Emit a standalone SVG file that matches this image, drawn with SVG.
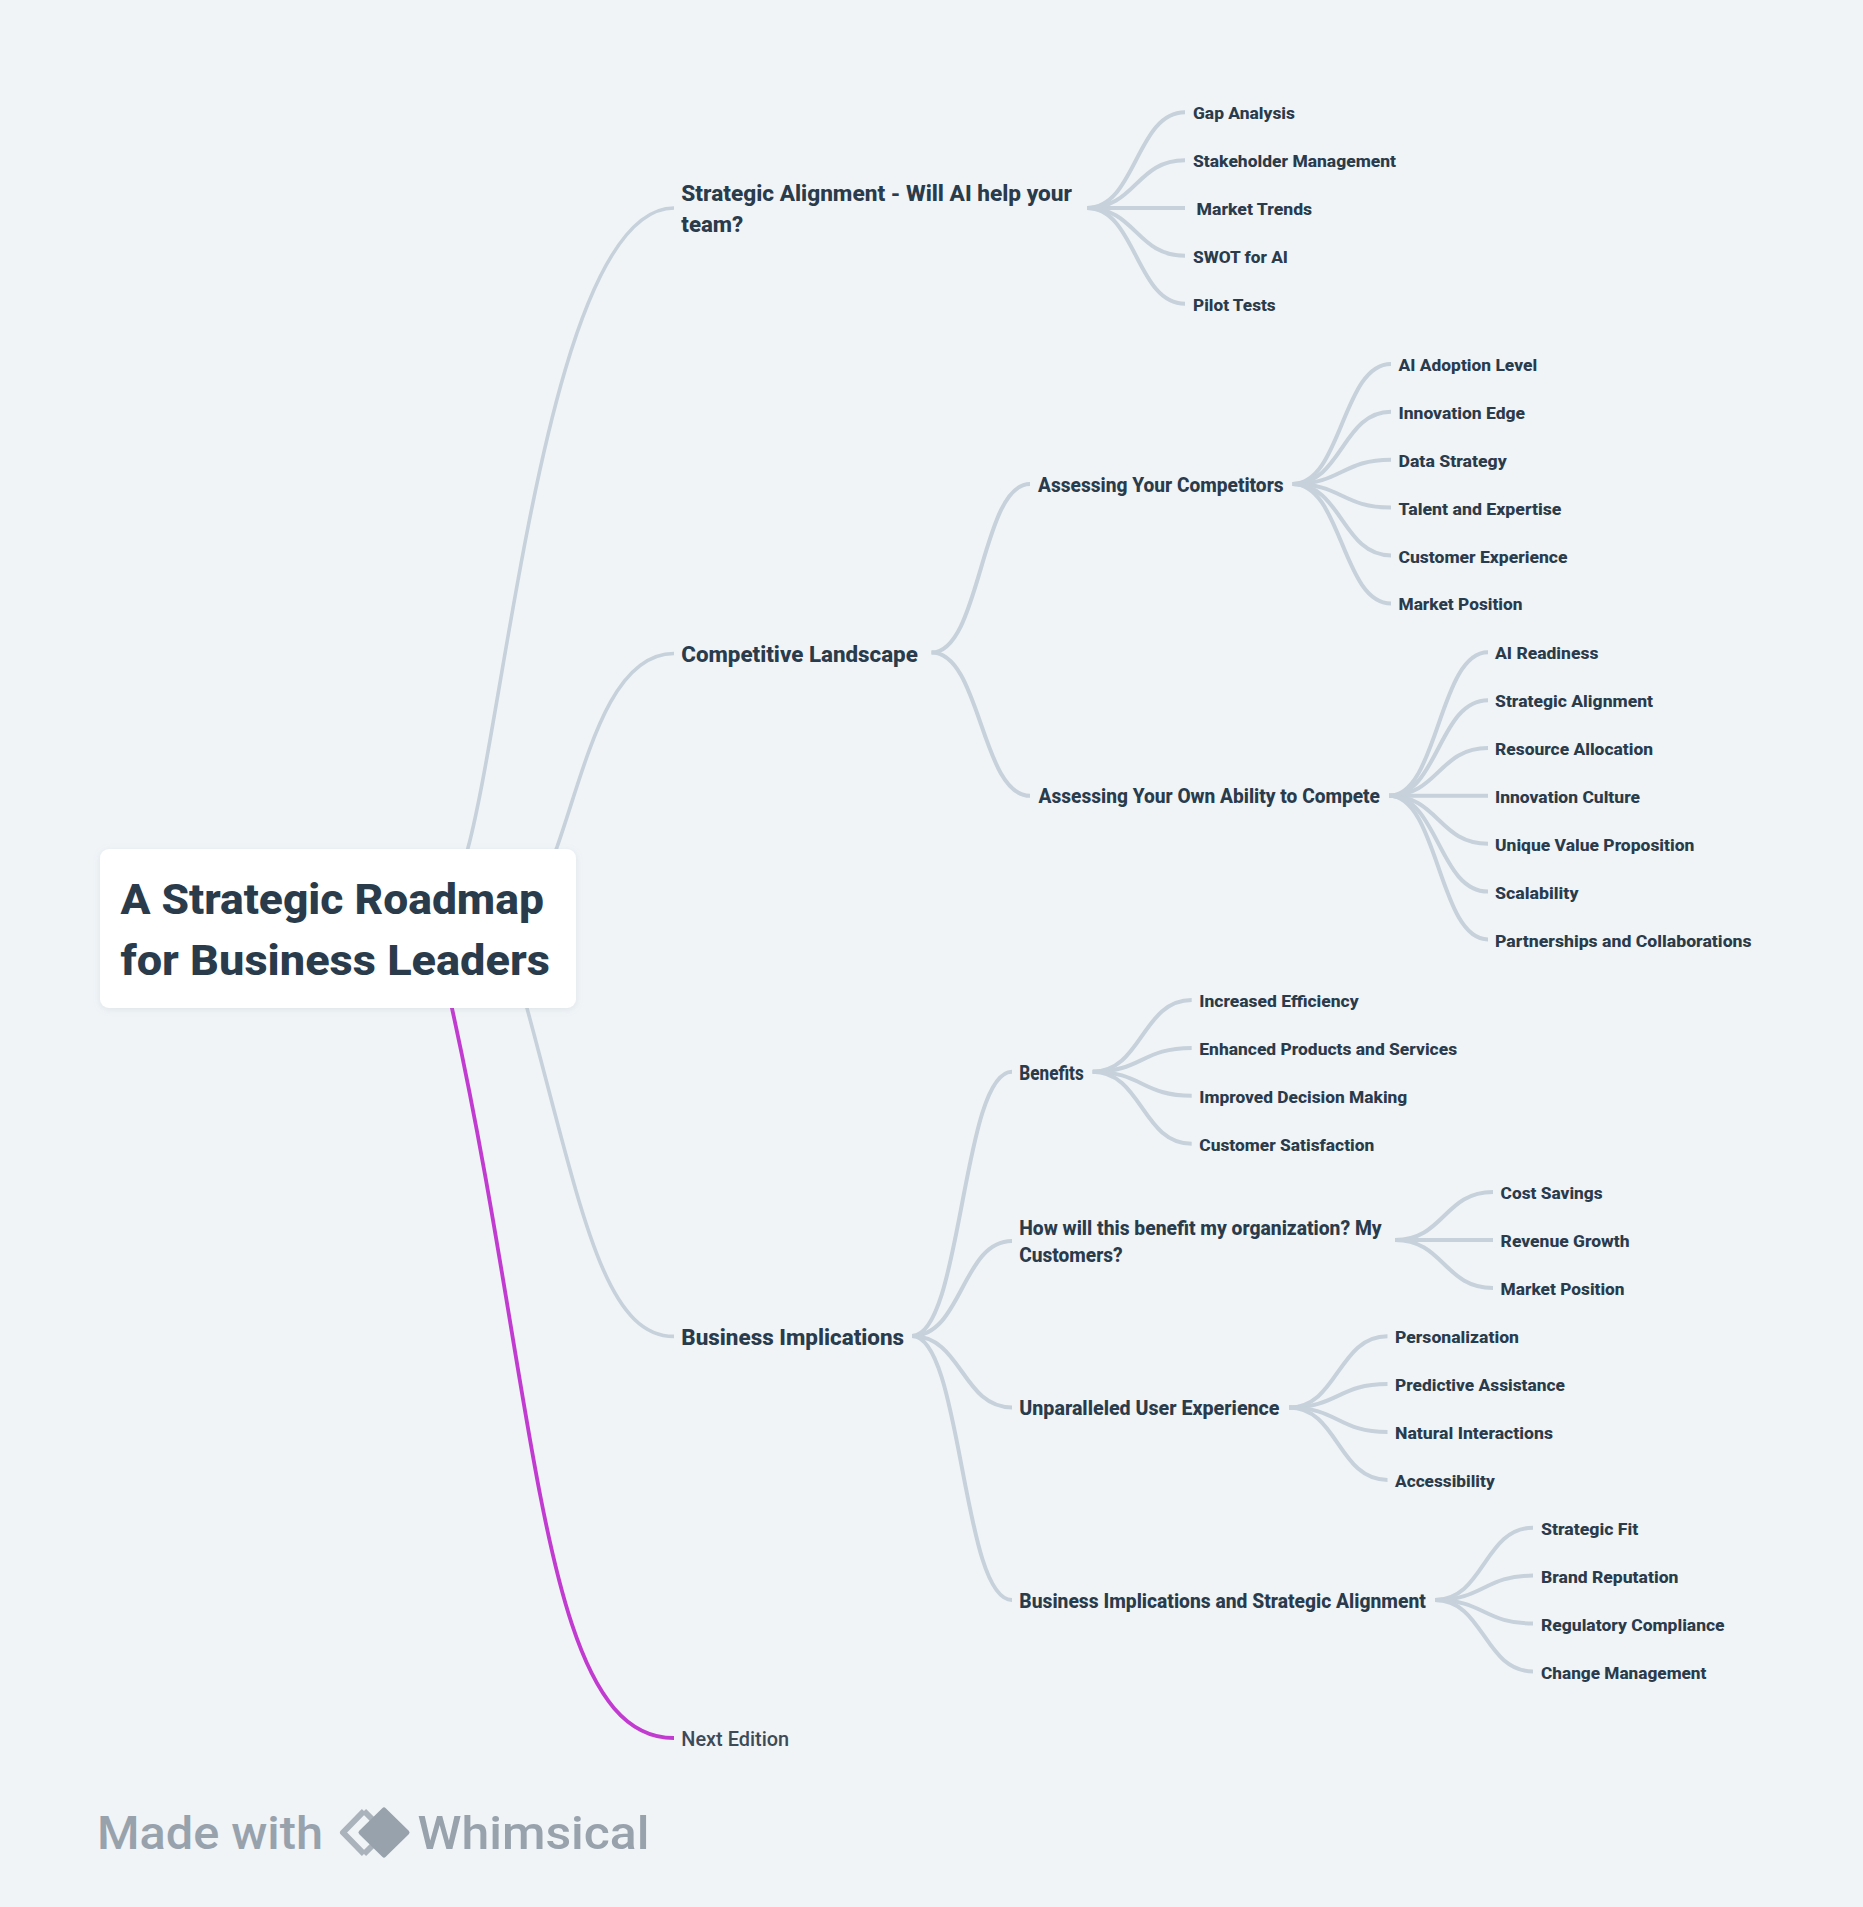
<svg xmlns="http://www.w3.org/2000/svg" width="1863" height="1907" viewBox="0 0 1863 1907">
<style>
text{font-family:"Roboto","Liberation Sans",sans-serif;fill:#2a3b4b;font-weight:700}
.r{font-size:43px;font-weight:800}
.a{font-size:21.5px;font-weight:800}
.b{font-size:19.5px;font-weight:800}
.c{font-size:16.5px;font-weight:800}
.n{font-size:20px;font-weight:500;fill:#3d4a58}
.w{font-size:47px;font-weight:500;fill:#98a2ad}
#connectors path{fill:none;stroke:#c6d1db;stroke-width:4}
#connectors path.t{stroke-width:3.6}
#connectors path.p{stroke:#c13bd0;stroke-width:3.8}
</style>
<defs><filter id="sh" x="-5%" y="-10%" width="110%" height="125%"><feDropShadow dx="0" dy="1.5" stdDeviation="3" flood-color="#8a99a8" flood-opacity="0.18"/></filter></defs>
<rect width="1863" height="1907" fill="#f0f4f7"/>
<g id="connectors">
<path class="t" d="M455 900L468 848C508 698 550 208 674 208"/>
<path class="t" d="M540 885L556.7 848C585 768 608 653.5 674 653.5"/>
<path class="t" d="M515 985L526.7 1007C581 1207 603 1336.4 674 1336.4"/>
<path class="p" d="M445 985L451.7 1007C540 1407 540 1738 674 1738"/>
<path d="M1087 208C1136 208 1136 112.3 1185 112.3"/><path d="M1087 208C1136 208 1136 160.2 1185 160.2"/><path d="M1087 208H1185"/><path d="M1087 208C1136 208 1136 255.8 1185 255.8"/><path d="M1087 208C1136 208 1136 303.7 1185 303.7"/>
<path d="M931.5 652.5C981 652.5 981 484 1030 484"/><path d="M931.5 652.5C981 652.5 981 795.8 1030 795.8"/>
<path d="M1292.7 484C1342 484 1342 364 1391 364"/><path d="M1292.7 484C1342 484 1342 411.8 1391 411.8"/><path d="M1292.7 484C1342 484 1342 459.7 1391 459.7"/><path d="M1292.7 484C1342 484 1342 507.5 1391 507.5"/><path d="M1292.7 484C1342 484 1342 555.4 1391 555.4"/><path d="M1292.7 484C1342 484 1342 603.4 1391 603.4"/>
<path d="M1389 795.8C1438.500 795.8 1438.500 652.3 1488 652.3"/><path d="M1389 795.8C1438.500 795.8 1438.500 700.2 1488 700.2"/><path d="M1389 795.8C1438.500 795.8 1438.500 748 1488 748"/><path d="M1389 795.8H1488"/><path d="M1389 795.8C1438.500 795.8 1438.500 843.7 1488 843.7"/><path d="M1389 795.8C1438.500 795.8 1438.500 891.6 1488 891.6"/><path d="M1389 795.8C1438.500 795.8 1438.500 939.5 1488 939.5"/>
<path d="M912 1336C962 1336 962 1071.7 1012 1071.7"/><path d="M912 1336C962 1336 962 1241 1012 1241"/><path d="M912 1336C962 1336 962 1407.500 1012 1407.500"/><path d="M912 1336C962 1336 962 1600 1012 1600"/>
<path d="M1092.700 1071.700C1142 1071.700 1142 1000 1191.700 1000"/><path d="M1092.700 1071.700C1142 1071.700 1142 1047.900 1191.700 1047.900"/><path d="M1092.700 1071.700C1142 1071.700 1142 1095.800 1191.700 1095.800"/><path d="M1092.700 1071.700C1142 1071.700 1142 1143.700 1191.700 1143.700"/>
<path d="M1395 1240C1444 1240 1444 1192 1493 1192"/><path d="M1395 1240H1493"/><path d="M1395 1240C1444 1240 1444 1287.900 1493 1287.900"/>
<path d="M1289 1407.500C1338 1407.500 1338 1336.200 1387.500 1336.200"/><path d="M1289 1407.500C1338 1407.500 1338 1384.100 1387.500 1384.100"/><path d="M1289 1407.500C1338 1407.500 1338 1432 1387.500 1432"/><path d="M1289 1407.500C1338 1407.500 1338 1479.900 1387.500 1479.900"/>
<path d="M1435 1600C1484 1600 1484 1527.700 1533 1527.700"/><path d="M1435 1600C1484 1600 1484 1575.600 1533 1575.600"/><path d="M1435 1600C1484 1600 1484 1623.500 1533 1623.500"/><path d="M1435 1600C1484 1600 1484 1671.400 1533 1671.400"/>
</g>
<g id="root"><rect x="100" y="849" width="476" height="159" rx="9" fill="#fff" filter="url(#sh)"/>
<text class="r" x="120.400" y="914" textLength="423.500" lengthAdjust="spacingAndGlyphs">A Strategic Roadmap</text>
<text class="r" x="120.400" y="974.500" textLength="429.500" lengthAdjust="spacingAndGlyphs">for Business Leaders</text></g>
<g id="n-strategic-alignment"><text class="a" x="681.300" y="201.300" textLength="390.700" lengthAdjust="spacingAndGlyphs">Strategic Alignment - Will AI help your</text><text class="a" x="681.300" y="232" textLength="62" lengthAdjust="spacingAndGlyphs">team?</text></g>
<g id="n-gap"><text class="c" x="1193" y="119" textLength="102" lengthAdjust="spacingAndGlyphs">Gap Analysis</text></g>
<g id="n-stakeholder"><text class="c" x="1193" y="166.900" textLength="203" lengthAdjust="spacingAndGlyphs">Stakeholder Management</text></g>
<g id="n-market-trends"><text class="c" x="1196.600" y="214.800" textLength="115.500" lengthAdjust="spacingAndGlyphs">Market Trends</text></g>
<g id="n-swot"><text class="c" x="1193" y="262.600" textLength="95" lengthAdjust="spacingAndGlyphs">SWOT for AI</text></g>
<g id="n-pilot"><text class="c" x="1193" y="310.500" textLength="82.700" lengthAdjust="spacingAndGlyphs">Pilot Tests</text></g>
<g id="n-competitive"><text class="a" x="681.300" y="661.500" textLength="236.500" lengthAdjust="spacingAndGlyphs">Competitive Landscape</text></g>
<g id="n-assess-comp"><text class="b" x="1038" y="492" textLength="245.600" lengthAdjust="spacingAndGlyphs">Assessing Your Competitors</text></g>
<g id="n-ai-adoption"><text class="c" x="1398.500" y="371.300" textLength="138.600" lengthAdjust="spacingAndGlyphs">AI Adoption Level</text></g>
<g id="n-innovation-edge"><text class="c" x="1398.500" y="419.100" textLength="126.500" lengthAdjust="spacingAndGlyphs">Innovation Edge</text></g>
<g id="n-data-strategy"><text class="c" x="1398.500" y="467" textLength="108.200" lengthAdjust="spacingAndGlyphs">Data Strategy</text></g>
<g id="n-talent"><text class="c" x="1398.500" y="514.800" textLength="163" lengthAdjust="spacingAndGlyphs">Talent and Expertise</text></g>
<g id="n-customer-exp"><text class="c" x="1398.500" y="562.700" textLength="169" lengthAdjust="spacingAndGlyphs">Customer Experience</text></g>
<g id="n-market-pos-1"><text class="c" x="1398.500" y="610.300" textLength="124" lengthAdjust="spacingAndGlyphs">Market Position</text></g>
<g id="n-assess-own"><text class="b" x="1038.500" y="803.400" textLength="341.500" lengthAdjust="spacingAndGlyphs">Assessing Your Own Ability to Compete</text></g>
<g id="n-ai-readiness"><text class="c" x="1495" y="659" textLength="103.400" lengthAdjust="spacingAndGlyphs">AI Readiness</text></g>
<g id="n-strat-align"><text class="c" x="1495" y="707" textLength="158" lengthAdjust="spacingAndGlyphs">Strategic Alignment</text></g>
<g id="n-resource"><text class="c" x="1495" y="755.300" textLength="158" lengthAdjust="spacingAndGlyphs">Resource Allocation</text></g>
<g id="n-innovation-culture"><text class="c" x="1495" y="803.100" textLength="145" lengthAdjust="spacingAndGlyphs">Innovation Culture</text></g>
<g id="n-uvp"><text class="c" x="1495" y="851" textLength="199.400" lengthAdjust="spacingAndGlyphs">Unique Value Proposition</text></g>
<g id="n-scalability"><text class="c" x="1495" y="898.900" textLength="83.500" lengthAdjust="spacingAndGlyphs">Scalability</text></g>
<g id="n-partnerships"><text class="c" x="1495" y="946.800" textLength="256.600" lengthAdjust="spacingAndGlyphs">Partnerships and Collaborations</text></g>
<g id="n-business"><text class="a" x="681.300" y="1344.500" textLength="222.800" lengthAdjust="spacingAndGlyphs">Business Implications</text></g>
<g id="n-benefits"><text class="b" x="1019.300" y="1080" textLength="64.400" lengthAdjust="spacingAndGlyphs">Benefits</text></g>
<g id="n-efficiency"><text class="c" x="1199.300" y="1007" textLength="159.300" lengthAdjust="spacingAndGlyphs">Increased Efficiency</text></g>
<g id="n-products"><text class="c" x="1199.300" y="1055.300" textLength="257.800" lengthAdjust="spacingAndGlyphs">Enhanced Products and Services</text></g>
<g id="n-decision"><text class="c" x="1199.300" y="1103.200" textLength="208" lengthAdjust="spacingAndGlyphs">Improved Decision Making</text></g>
<g id="n-satisfaction"><text class="c" x="1199.300" y="1151.100" textLength="175" lengthAdjust="spacingAndGlyphs">Customer Satisfaction</text></g>
<g id="n-how"><text class="b" x="1019.300" y="1235" textLength="362.400" lengthAdjust="spacingAndGlyphs">How will this benefit my organization? My</text><text class="b" x="1019.300" y="1261.700" textLength="103.400" lengthAdjust="spacingAndGlyphs">Customers?</text></g>
<g id="n-cost"><text class="c" x="1500.600" y="1199.300" textLength="102" lengthAdjust="spacingAndGlyphs">Cost Savings</text></g>
<g id="n-revenue"><text class="c" x="1500.600" y="1247.300" textLength="129" lengthAdjust="spacingAndGlyphs">Revenue Growth</text></g>
<g id="n-market-pos-2"><text class="c" x="1500.600" y="1295.200" textLength="124" lengthAdjust="spacingAndGlyphs">Market Position</text></g>
<g id="n-unparalleled"><text class="b" x="1019.300" y="1415.300" textLength="260.200" lengthAdjust="spacingAndGlyphs">Unparalleled User Experience</text></g>
<g id="n-personalization"><text class="c" x="1395" y="1343" textLength="124" lengthAdjust="spacingAndGlyphs">Personalization</text></g>
<g id="n-predictive"><text class="c" x="1395" y="1391.400" textLength="170" lengthAdjust="spacingAndGlyphs">Predictive Assistance</text></g>
<g id="n-natural"><text class="c" x="1395" y="1439.300" textLength="158" lengthAdjust="spacingAndGlyphs">Natural Interactions</text></g>
<g id="n-accessibility"><text class="c" x="1395" y="1487.200" textLength="99.700" lengthAdjust="spacingAndGlyphs">Accessibility</text></g>
<g id="n-bi-sa"><text class="b" x="1019.300" y="1607.500" textLength="406.500" lengthAdjust="spacingAndGlyphs">Business Implications and Strategic Alignment</text></g>
<g id="n-fit"><text class="c" x="1541" y="1535" textLength="97.300" lengthAdjust="spacingAndGlyphs">Strategic Fit</text></g>
<g id="n-brand"><text class="c" x="1541" y="1582.900" textLength="137.400" lengthAdjust="spacingAndGlyphs">Brand Reputation</text></g>
<g id="n-regulatory"><text class="c" x="1541" y="1630.800" textLength="183.600" lengthAdjust="spacingAndGlyphs">Regulatory Compliance</text></g>
<g id="n-change"><text class="c" x="1541" y="1678.700" textLength="165.400" lengthAdjust="spacingAndGlyphs">Change Management</text></g>
<g id="n-next"><text class="n" x="681.300" y="1745.700" textLength="107.800" lengthAdjust="spacingAndGlyphs">Next Edition</text></g>
<g id="watermark">
<text class="w" x="97" y="1849" textLength="226" lengthAdjust="spacingAndGlyphs">Made with</text>
<path d="M364 1811L343 1832.500L364 1854" fill="none" stroke="#aab2bb" stroke-width="6" stroke-linejoin="round"/>
<path d="M364 1811L372 1819M364 1854L372 1846" fill="none" stroke="#aab2bb" stroke-width="6"/>
<path d="M384 1810L407 1832.500L384 1855L361 1832.500Z" fill="#98a2ad" stroke="#98a2ad" stroke-width="5" stroke-linejoin="round"/>
<text class="w" x="417.500" y="1849" textLength="232" lengthAdjust="spacingAndGlyphs">Whimsical</text>
</g>
</svg>
